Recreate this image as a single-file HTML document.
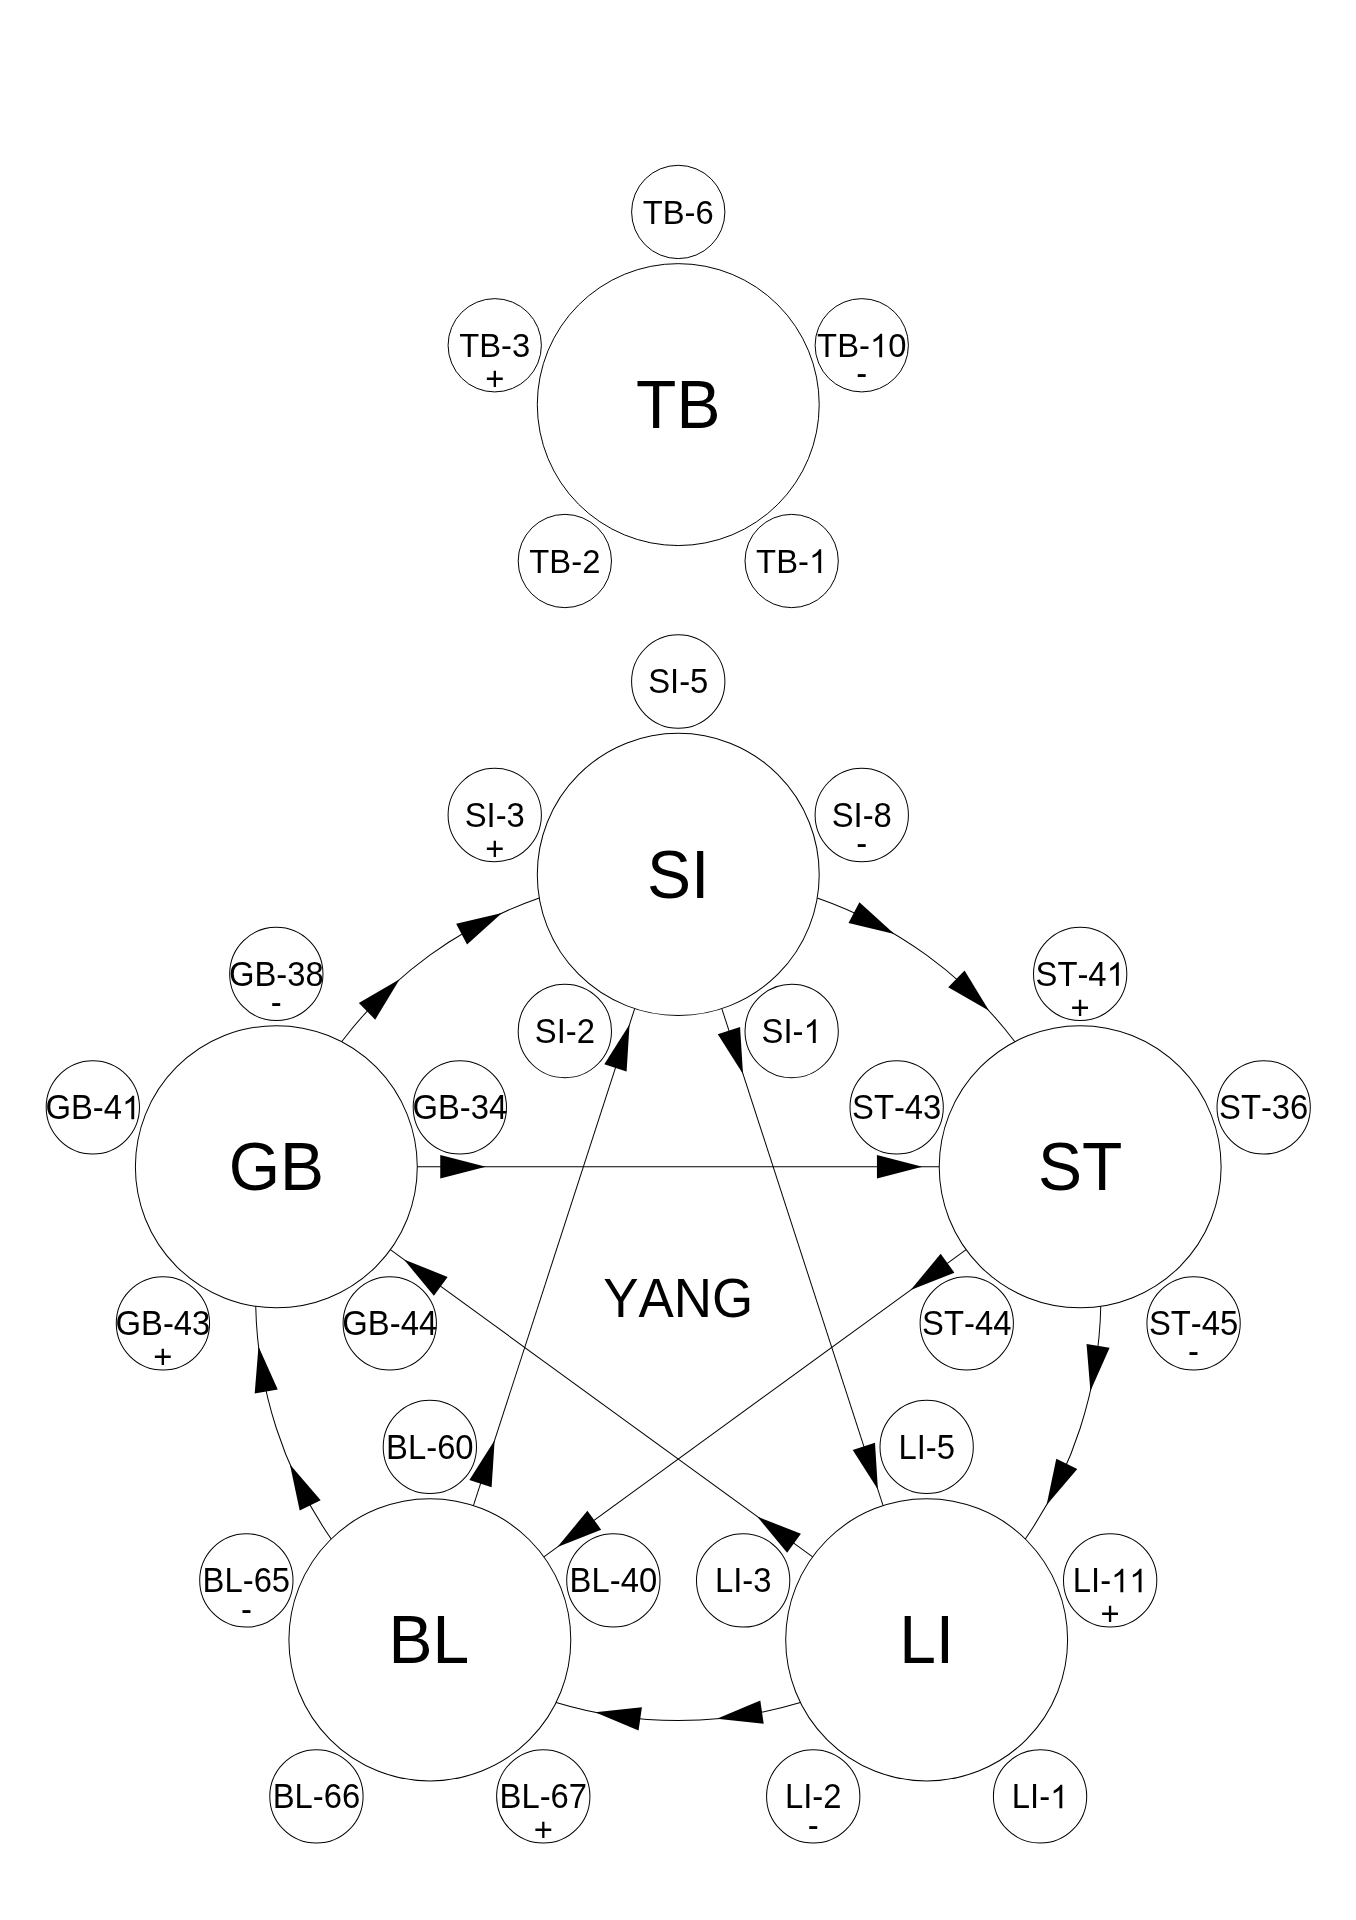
<!DOCTYPE html>
<html><head><meta charset="utf-8"><title>Yang</title>
<style>
html,body{margin:0;padding:0;background:#fff;}
body{width:1356px;height:1920px;overflow:hidden;}
svg{display:block;will-change:transform;}
text{font-kerning:none;font-family:"Liberation Sans",sans-serif;text-anchor:middle;fill:#000;}
.ln{fill:none;stroke:#000;stroke-width:1.0;}
.ar,.gl{fill:#000;stroke:none;}
.h{fill:none;}
</style></head><body>
<svg width="1356" height="1920" viewBox="0 0 1356 1920">
<rect width="1356" height="1920" fill="#fff"/>
<g class="ln">
<circle cx="678.25" cy="404.6" r="140.95"/>
<circle cx="678.25" cy="211.95" r="46.65"/>
<circle cx="861.76" cy="345.28" r="46.65"/>
<circle cx="791.66" cy="561" r="46.65"/>
<circle cx="564.84" cy="561" r="46.65"/>
<circle cx="494.74" cy="345.28" r="46.65"/>
</g>
<g>
<text transform="translate(678.25 428.43) scale(1 1.0407)" font-size="66">TB</text>
<text transform="translate(678.25 223.89) scale(1 1.0407)" font-size="32.8">TB-6</text>
<text transform="translate(861.76 357.22) scale(1 1.0407)" font-size="32.8">TB-<tspan class="h">1</tspan>0</text>
<text transform="translate(861.76 385.36) scale(1 1.1000)" font-size="32.8">-</text>
<text transform="translate(791.66 572.94) scale(1 1.0407)" font-size="32.8">TB-<tspan class="h">1</tspan></text>
<text transform="translate(564.84 572.94) scale(1 1.0407)" font-size="32.8">TB-2</text>
<text transform="translate(494.74 357.22) scale(1 1.0407)" font-size="32.8">TB-3</text>
<text transform="translate(494.74 389.93) scale(1 1.0000)" font-size="32.8">+</text>
</g>
<g class="gl">
<path transform="translate(869.93 357.22) scale(0.01602 -0.01602)" d="M763 0H583V1147Q518 1085 412.5 1023T223 930V1104Q374 1175 487 1276T647 1472H763Z"/>
<path transform="translate(808.96 572.94) scale(0.01602 -0.01602)" d="M763 0H583V1147Q518 1085 412.5 1023T223 930V1104Q374 1175 487 1276T647 1472H763Z"/>
</g>
<g transform="translate(0 1297.5) scale(1 1.00118) translate(0 -1297.5)">
<g class="ln">
<circle cx="678.25" cy="874.9" r="140.95"/>
<circle cx="678.25" cy="682.25" r="46.65"/>
<circle cx="861.76" cy="815.58" r="46.65"/>
<circle cx="791.66" cy="1031.3" r="46.65"/>
<circle cx="564.84" cy="1031.3" r="46.65"/>
<circle cx="494.74" cy="815.58" r="46.65"/>
<circle cx="1080.17" cy="1166.91" r="140.95"/>
<circle cx="1080.17" cy="974.26" r="46.65"/>
<circle cx="1263.67" cy="1107.58" r="46.65"/>
<circle cx="1193.58" cy="1323.31" r="46.65"/>
<circle cx="966.75" cy="1323.31" r="46.65"/>
<circle cx="896.66" cy="1107.58" r="46.65"/>
<circle cx="926.65" cy="1639.39" r="140.95"/>
<circle cx="926.65" cy="1446.74" r="46.65"/>
<circle cx="1110.15" cy="1580.07" r="46.65"/>
<circle cx="1040.06" cy="1795.79" r="46.65"/>
<circle cx="813.23" cy="1795.79" r="46.65"/>
<circle cx="743.14" cy="1580.07" r="46.65"/>
<circle cx="429.85" cy="1639.39" r="140.95"/>
<circle cx="429.85" cy="1446.74" r="46.65"/>
<circle cx="613.36" cy="1580.07" r="46.65"/>
<circle cx="543.27" cy="1795.79" r="46.65"/>
<circle cx="316.44" cy="1795.79" r="46.65"/>
<circle cx="246.35" cy="1580.07" r="46.65"/>
<circle cx="276.33" cy="1166.91" r="140.95"/>
<circle cx="276.33" cy="974.26" r="46.65"/>
<circle cx="459.84" cy="1107.58" r="46.65"/>
<circle cx="389.75" cy="1323.31" r="46.65"/>
<circle cx="162.92" cy="1323.31" r="46.65"/>
<circle cx="92.83" cy="1107.58" r="46.65"/>
<path d="M417.28 1166.91L939.22 1166.91"/>
<path d="M721.81 1008.95L883.09 1505.34"/>
<path d="M966.14 1249.76L543.88 1556.54"/>
<path d="M812.62 1556.54L390.36 1249.76"/>
<path d="M473.41 1505.34L634.69 1008.95"/>
<path d="M817.23 898.41A422.6 422.6 0 0 1 1014.87 1042"/>
<path d="M1100.76 1306.35A422.6 422.6 0 0 1 1025.27 1538.69"/>
<path d="M800.4 1702.06A422.6 422.6 0 0 1 556.1 1702.06"/>
<path d="M331.23 1538.69A422.6 422.6 0 0 1 255.74 1306.35"/>
<path d="M341.63 1042A422.6 422.6 0 0 1 539.27 898.41"/>
</g>
<g class="ar">
<path d="M485.88 1166.91L440.28 1178.61L440.28 1155.21Z"/>
<path d="M922.42 1166.91L876.92 1178.61L876.92 1155.21Z"/>
<path d="M743 1074.19L717.79 1034.44L740.04 1027.21Z"/>
<path d="M877.9 1489.36L852.71 1449.7L874.97 1442.47Z"/>
<path d="M910.64 1290.08L940.65 1253.81L954.41 1272.74Z"/>
<path d="M557.47 1546.67L587.41 1510.46L601.16 1529.39Z"/>
<path d="M757.12 1516.22L800.89 1533.56L787.13 1552.49Z"/>
<path d="M403.96 1259.63L447.64 1276.91L433.89 1295.84Z"/>
<path d="M494.61 1440.1L491.64 1487.08L469.39 1479.85Z"/>
<path d="M629.5 1024.93L626.57 1071.82L604.31 1064.59Z"/>
<path d="M894.38 934.35L848.53 923.53L859.4 902.8Z"/>
<path d="M989.08 1011.18L948.23 987.72L964.56 970.96Z"/>
<path d="M1090.41 1390.84L1086.54 1343.89L1109.61 1347.81Z"/>
<path d="M1046.6 1504.64L1056.3 1458.54L1077.28 1468.89Z"/>
<path d="M716.85 1718.33L760.3 1700.14L763.7 1723.29Z"/>
<path d="M595.08 1711.83L641.92 1706.81L638.56 1729.97Z"/>
<path d="M289.94 1464.25L320.67 1499.96L299.7 1510.34Z"/>
<path d="M258.49 1346.44L277.75 1389.43L254.69 1393.39Z"/>
<path d="M399.66 979.73L375.2 1019.99L358.85 1003.25Z"/>
<path d="M502 913.41L467.06 945.01L456.16 924.3Z"/>
</g>
<g>
<text transform="translate(678.25 898.73) scale(1 1.0407)" font-size="66">SI</text>
<text transform="translate(678.25 694.19) scale(1 1.0407)" font-size="32.8">SI-5</text>
<text transform="translate(861.76 827.52) scale(1 1.0407)" font-size="32.8">SI-8</text>
<text transform="translate(861.76 855.66) scale(1 1.1000)" font-size="32.8">-</text>
<text transform="translate(791.66 1043.24) scale(1 1.0407)" font-size="32.8">SI-<tspan class="h">1</tspan></text>
<text transform="translate(564.84 1043.24) scale(1 1.0407)" font-size="32.8">SI-2</text>
<text transform="translate(494.74 827.52) scale(1 1.0407)" font-size="32.8">SI-3</text>
<text transform="translate(494.74 860.23) scale(1 1.0000)" font-size="32.8">+</text>
<text transform="translate(1080.17 1190.44) scale(1 1.0407)" font-size="66">ST</text>
<text transform="translate(1080.17 986.2) scale(1 1.0407)" font-size="32.8">ST-4<tspan class="h">1</tspan></text>
<text transform="translate(1080.17 1018.92) scale(1 1.0000)" font-size="32.8">+</text>
<text transform="translate(1263.67 1119.53) scale(1 1.0407)" font-size="32.8">ST-36</text>
<text transform="translate(1193.58 1335.25) scale(1 1.0407)" font-size="32.8">ST-45</text>
<text transform="translate(1193.58 1363.39) scale(1 1.1000)" font-size="32.8">-</text>
<text transform="translate(966.75 1335.25) scale(1 1.0407)" font-size="32.8">ST-44</text>
<text transform="translate(896.66 1119.53) scale(1 1.0407)" font-size="32.8">ST-43</text>
<text transform="translate(926.65 1662.92) scale(1 1.0407)" font-size="66">LI</text>
<text transform="translate(926.65 1458.68) scale(1 1.0407)" font-size="32.8">LI-5</text>
<text transform="translate(1110.15 1592.01) scale(1 1.0407)" font-size="32.8">LI-<tspan class="h">1</tspan><tspan class="h">1</tspan></text>
<text transform="translate(1110.15 1624.72) scale(1 1.0000)" font-size="32.8">+</text>
<text transform="translate(1040.06 1807.73) scale(1 1.0407)" font-size="32.8">LI-<tspan class="h">1</tspan></text>
<text transform="translate(813.23 1807.73) scale(1 1.0407)" font-size="32.8">LI-2</text>
<text transform="translate(813.23 1835.87) scale(1 1.1000)" font-size="32.8">-</text>
<text transform="translate(743.14 1592.01) scale(1 1.0407)" font-size="32.8">LI-3</text>
<text transform="translate(428.95 1662.92) scale(1 1.0407)" font-size="66">BL</text>
<text transform="translate(429.85 1458.68) scale(1 1.0407)" font-size="32.8">BL-60</text>
<text transform="translate(613.36 1592.01) scale(1 1.0407)" font-size="32.8">BL-40</text>
<text transform="translate(543.27 1807.73) scale(1 1.0407)" font-size="32.8">BL-67</text>
<text transform="translate(543.27 1840.45) scale(1 1.0000)" font-size="32.8">+</text>
<text transform="translate(316.44 1807.73) scale(1 1.0407)" font-size="32.8">BL-66</text>
<text transform="translate(246.35 1592.01) scale(1 1.0407)" font-size="32.8">BL-65</text>
<text transform="translate(246.35 1620.15) scale(1 1.1000)" font-size="32.8">-</text>
<text transform="translate(276.33 1190.44) scale(1 1.0407)" font-size="66">GB</text>
<text transform="translate(276.33 986.2) scale(1 1.0407)" font-size="32.8">GB-38</text>
<text transform="translate(276.33 1014.34) scale(1 1.1000)" font-size="32.8">-</text>
<text transform="translate(459.84 1119.53) scale(1 1.0407)" font-size="32.8">GB-34</text>
<text transform="translate(389.75 1335.25) scale(1 1.0407)" font-size="32.8">GB-44</text>
<text transform="translate(162.92 1335.25) scale(1 1.0407)" font-size="32.8">GB-43</text>
<text transform="translate(162.92 1367.97) scale(1 1.0000)" font-size="32.8">+</text>
<text transform="translate(92.83 1119.53) scale(1 1.0407)" font-size="32.8">GB-4<tspan class="h">1</tspan></text>
<text transform="translate(678.25 1316.54) scale(1 1.0407)" font-size="52.9">YANG</text>
</g>
<g class="gl">
<path transform="translate(803.5 1043.24) scale(0.01602 -0.01602)" d="M763 0H583V1147Q518 1085 412.5 1023T223 930V1104Q374 1175 487 1276T647 1472H763Z"/>
<path transform="translate(1106.58 986.2) scale(0.01602 -0.01602)" d="M763 0H583V1147Q518 1085 412.5 1023T223 930V1104Q374 1175 487 1276T647 1472H763Z"/>
<path transform="translate(1111.05 1592.01) scale(0.01602 -0.01602)" d="M763 0H583V1147Q518 1085 412.5 1023T223 930V1104Q374 1175 487 1276T647 1472H763Z"/>
<path transform="translate(1129.29 1592.01) scale(0.01602 -0.01602)" d="M763 0H583V1147Q518 1085 412.5 1023T223 930V1104Q374 1175 487 1276T647 1472H763Z"/>
<path transform="translate(1050.08 1807.73) scale(0.01602 -0.01602)" d="M763 0H583V1147Q518 1085 412.5 1023T223 930V1104Q374 1175 487 1276T647 1472H763Z"/>
<path transform="translate(121.98 1119.53) scale(0.01602 -0.01602)" d="M763 0H583V1147Q518 1085 412.5 1023T223 930V1104Q374 1175 487 1276T647 1472H763Z"/>
</g>
</g>
</svg>
</body></html>
